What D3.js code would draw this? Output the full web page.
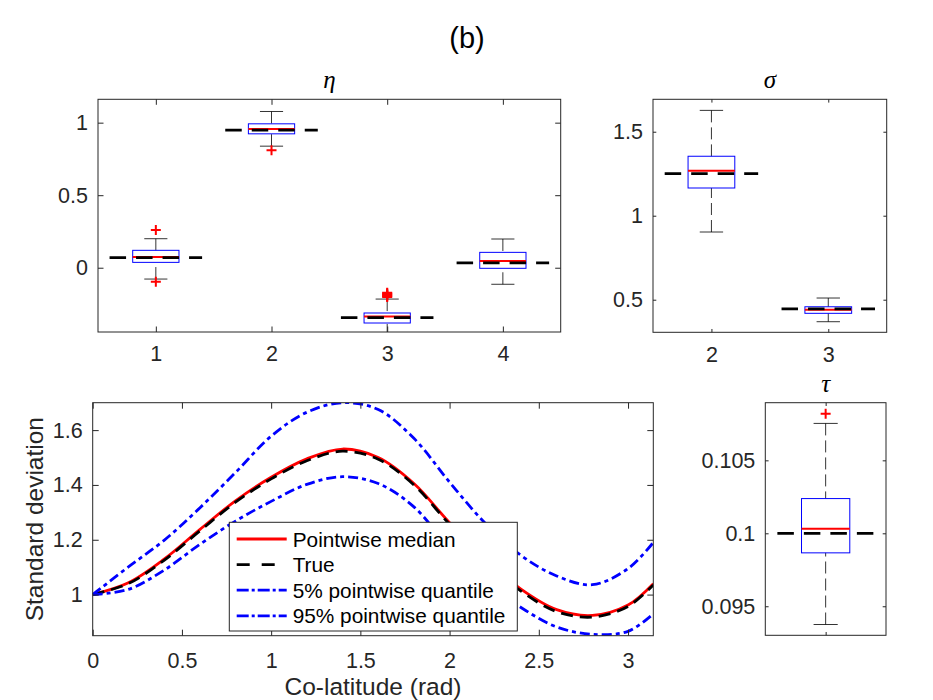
<!DOCTYPE html>
<html>
<head>
<meta charset="utf-8">
<script src="https://cdn.jsdelivr.net/npm/d3@7"></script>
<style>
  body { margin: 0; background: #fff; }
  svg { font-family: "Liberation Sans", Arial, sans-serif; }
</style>
</head>
<body>
<svg width="933" height="700"></svg>
<script>
// eta boxes, columns 1..4
var etaCats = [1, 2, 3, 4]
var etaLo   = [-0.078, 0.838, -0.47, -0.114]
var etaQ1   = [0.037, 0.923, -0.381, -0.004]
var etaMed  = [0.074, 0.957, -0.337, 0.046]
var etaQ3   = [0.12, 0.992, -0.312, 0.106]
var etaHi   = [0.2, 1.077, -0.216, 0.198]
var etaOut  = [[0.26, -0.096], [0.81], [-0.172, -0.178, -0.184, -0.19, -0.196, -0.202], []]
var etaTrue = [0.069, 0.948, -0.344, 0.034]
var etaYTicks = [0, 0.5, 1]

// sigma boxes, columns 2..3
var sigCats = [2, 3]
var sigLo   = [0.903, 0.369]
var sigQ1   = [1.165, 0.419]
var sigMed  = [1.268, 0.44]
var sigQ3   = [1.354, 0.458]
var sigHi   = [1.627, 0.51]
var sigOut  = [[], []]
var sigTrue = [1.25, 0.445]
var sigYTicks = [0.5, 1, 1.5]

// tau box
var tauCats = [1]
var tauLo   = [0.09375]
var tauQ1   = [0.09866]
var tauMed  = [0.10032]
var tauQ3   = [0.10238]
var tauHi   = [0.10753]
var tauOut  = [[0.1082]]
var tauTrue = [0.1]
var tauYTicks = [0.095, 0.1, 0.105]

// standard deviation vs co-latitude
var theta    = [0, 0.2, 0.4, 0.6, 0.8, 1.0, 1.2, 1.4, 1.6, 1.8, 2.0, 2.2, 2.4, 2.6, 2.8, 3.0, 3.1416]
var sdMedian = [1.0, 1.043, 1.129, 1.237, 1.342, 1.428, 1.495, 1.531, 1.50, 1.405, 1.262, 1.13, 1.02, 0.945, 0.924, 0.962, 1.04]
var sdTrue   = [1.0, 1.04, 1.125, 1.232, 1.337, 1.422, 1.488, 1.523, 1.494, 1.40, 1.256, 1.125, 1.013, 0.938, 0.918, 0.957, 1.035]
var sdLow    = [1.0, 1.019, 1.089, 1.183, 1.268, 1.34, 1.402, 1.43, 1.405, 1.32, 1.17, 1.05, 0.953, 0.882, 0.855, 0.866, 0.93]
var sdHigh   = [1.0, 1.101, 1.198, 1.316, 1.445, 1.578, 1.665, 1.70, 1.675, 1.57, 1.41, 1.26, 1.143, 1.068, 1.036, 1.095, 1.19]
var xTicks   = [0, 0.5, 1, 1.5, 2, 2.5, 3]
var yTicks   = [1, 1.2, 1.4, 1.6]
var legendLabels = ["Pointwise median", "True", "5% pointwise quantile", "95% pointwise quantile"]

var svg = d3.select("svg")
var ink = "#262626"
var fmt = d3.format("~g")

svg.append("text").attr("x", 467).attr("y", 48).attr("text-anchor", "middle")
  .style("font-size", "29px").attr("fill", "#000").text("(b)")

// inward ticks on all four sides plus the box frame
function axes(x, y, o) {
  var g = svg.append("g")
  g.append("g").attr("transform", "translate(" + o.l + ",0)")
    .call(d3.axisLeft(y).tickValues(o.yTicks).tickSize(-o.tick).tickPadding(10).tickFormat(fmt))
  g.append("g").attr("transform", "translate(" + o.r + ",0)")
    .call(d3.axisRight(y).tickValues(o.yTicks).tickSize(-o.tick).tickFormat(""))
  g.append("g").attr("transform", "translate(0," + o.b + ")")
    .call(d3.axisBottom(x).tickValues(o.xTicks).tickSize(-o.tick).tickPadding(o.xPad || 14)
      .tickFormat(o.xLabels ? fmt : ""))
  g.append("g").attr("transform", "translate(0," + o.t + ")")
    .call(d3.axisTop(x).tickValues(o.xTicks).tickSize(-o.tick).tickFormat(""))
  g.selectAll(".domain").remove()
  g.selectAll(".tick line").attr("stroke", ink).attr("stroke-width", 1)
  g.selectAll(".tick text").attr("fill", ink).style("font-size", "21.5px").attr("font-family", null)
  svg.append("rect").attr("x", o.l).attr("y", o.t).attr("width", o.r - o.l).attr("height", o.b - o.t)
    .attr("fill", "none").attr("stroke", ink).attr("stroke-width", 1)
}

function clip(name, o) {
  svg.append("clipPath").attr("id", name).append("rect")
    .attr("x", o.l).attr("y", o.t).attr("width", o.r - o.l).attr("height", o.b - o.t)
  return svg.append("g").attr("clip-path", "url(#" + name + ")")
}

function boxPanel(o) {
  var x = d3.scaleLinear().domain(o.xDom).range([o.l, o.r])
  var y = d3.scaleLinear().domain(o.yDom).range([o.b, o.t])
  var rows = o.cats.map(function(c, i) {
    return {c: c, lo: o.lo[i], q1: o.q1[i], med: o.med[i], q3: o.q3[i], hi: o.hi[i], out: o.out[i], tru: o.tru[i]}
  })
  var g = clip("clip-" + o.name, o)
  var hw = x(0.2) - x(0)

  rows.forEach(function(d) {
    var cx = x(d.c)
    ;[[d.hi, d.q3], [d.lo, d.q1]].forEach(function(w) {
      g.append("line").attr("x1", cx).attr("x2", cx).attr("y1", y(w[0])).attr("y2", y(w[1]))
        .attr("stroke", "#000").attr("stroke-width", 0.8).attr("stroke-dasharray", "12,5")
      g.append("line").attr("x1", cx - hw / 2).attr("x2", cx + hw / 2).attr("y1", y(w[0])).attr("y2", y(w[0]))
        .attr("stroke", "#000").attr("stroke-width", 0.8)
    })
    g.append("rect").attr("x", cx - hw).attr("width", 2 * hw)
      .attr("y", y(d.q3)).attr("height", y(d.q1) - y(d.q3))
      .attr("fill", "none").attr("stroke", "#0000ff").attr("stroke-width", 1)
    g.append("line").attr("x1", cx - hw).attr("x2", cx + hw).attr("y1", y(d.med)).attr("y2", y(d.med))
      .attr("stroke", "#ff0000").attr("stroke-width", 2)
    g.selectAll(null).data(d.out).enter().append("path")
      .attr("transform", function(v) { return "translate(" + cx + "," + y(v) + ")" })
      .attr("d", "M-5,0H5M0,-5V5").attr("stroke", "#ff0000").attr("stroke-width", 2)
    g.append("line").attr("x1", x(d.c - 0.4)).attr("x2", x(d.c + 0.4)).attr("y1", y(d.tru)).attr("y2", y(d.tru))
      .attr("stroke", "#000").attr("stroke-width", 2.7).attr("stroke-dasharray", "16.5,10")
  })

  axes(x, y, o)
  svg.append("text").attr("x", (o.l + o.r) / 2).attr("y", o.t - 11).attr("text-anchor", "middle")
    .attr("font-family", "'Liberation Serif', 'DejaVu Serif', serif").attr("font-style", "italic")
    .style("font-size", "25px").attr("fill", "#000").text(o.title)
}

boxPanel({name: "eta", title: "η", l: 98, r: 560.7, t: 99.3, b: 332, xDom: [0.5, 4.5], yDom: [-0.443, 1.161],
  cats: etaCats, lo: etaLo, q1: etaQ1, med: etaMed, q3: etaQ3, hi: etaHi, out: etaOut, tru: etaTrue,
  yTicks: etaYTicks, xTicks: etaCats, xLabels: true, tick: 5.5})

boxPanel({name: "sig", title: "σ", l: 653, r: 886.7, t: 99.3, b: 332.3, xDom: [1.5, 3.5], yDom: [0.306, 1.693],
  cats: sigCats, lo: sigLo, q1: sigQ1, med: sigMed, q3: sigQ3, hi: sigHi, out: sigOut, tru: sigTrue,
  yTicks: sigYTicks, xTicks: sigCats, xLabels: true, tick: 3.3})

boxPanel({name: "tau", title: "τ", l: 765.3, r: 886, t: 402.7, b: 635.3, xDom: [0.5, 1.5], yDom: [0.09301, 0.10895],
  cats: tauCats, lo: tauLo, q1: tauQ1, med: tauMed, q3: tauQ3, hi: tauHi, out: tauOut, tru: tauTrue,
  yTicks: tauYTicks, xTicks: tauCats, xLabels: false, tick: 3.3})

// line chart
var lc = {l: 92.7, r: 653.3, t: 402.7, b: 635.7, yTicks: yTicks, xTicks: xTicks, xLabels: true, tick: 6, xPad: 17}
var x = d3.scaleLinear().domain([0, Math.PI]).range([lc.l, lc.r])
var y = d3.scaleLinear().domain([0.85, 1.7]).range([lc.b, lc.t])
var line = d3.line().x(function(d) { return x(d[0]) }).y(function(d) { return y(d[1]) })
  .curve(d3.curveCatmullRom.alpha(0.5))

var series = [
  {vals: sdMedian, color: "#ff0000", dash: null},
  {vals: sdTrue, color: "#000", dash: "12,7"},
  {vals: sdLow, color: "#0000ff", dash: "10,4,4,4"},
  {vals: sdHigh, color: "#0000ff", dash: "10,4,4,4"}
]
var lg = clip("clip-sd", lc)
series.forEach(function(s) {
  lg.append("path").datum(theta.map(function(t, i) { return [t, s.vals[i]] }))
    .attr("d", line).attr("fill", "none").attr("stroke", s.color).attr("stroke-width", 2.8)
    .attr("stroke-dasharray", s.dash)
})
axes(x, y, lc)

svg.append("text").attr("x", (lc.l + lc.r) / 2).attr("y", 695).attr("text-anchor", "middle")
  .style("font-size", "24.5px").attr("fill", ink).text("Co-latitude (rad)")
svg.append("text").attr("transform", "translate(43," + (lc.t + lc.b) / 2 + ") rotate(-90)")
  .attr("text-anchor", "middle").style("font-size", "24.5px").attr("fill", ink).text("Standard deviation")

// legend
var leg = svg.append("g")
leg.append("rect").attr("x", 229.3).attr("y", 522.3).attr("width", 288).attr("height", 108.7)
  .attr("fill", "#fff").attr("stroke", ink).attr("stroke-width", 1)
var legDash = [null, "13,12", "12,3,3,3", "12,3,3,3"]
legendLabels.forEach(function(lab, i) {
  var cy = 539 + i * 25.6
  leg.append("line").attr("x1", 236.7).attr("x2", 286.7).attr("y1", cy).attr("y2", cy)
    .attr("stroke", series[i].color).attr("stroke-width", 2.8).attr("stroke-dasharray", legDash[i])
  leg.append("text").attr("x", 292.7).attr("y", cy + 7.5).style("font-size", "20.8px")
    .attr("fill", "#000").text(lab)
})
</script>
</body>
</html>
